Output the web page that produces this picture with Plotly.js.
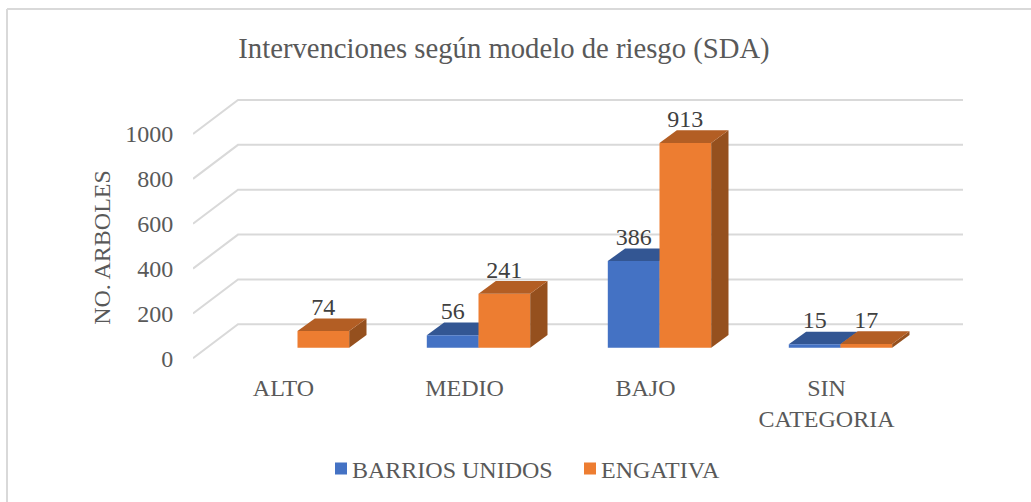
<!DOCTYPE html>
<html>
<head>
<meta charset="utf-8">
<script src="https://cdn.plot.ly/plotly-3.0.1.min.js"></script>
<style>html,body{margin:0;padding:0;background:#fff}#chart{width:1031px;height:502px}</style>
</head>
<body>
<div id="chart"></div>
<script>
// ---- data ----
const categories = ['ALTO', 'MEDIO', 'BAJO', 'SIN<br>CATEGORIA'];
const barriosUnidos = [null, 56, 386, 15];
const engativa = [74, 241, 913, 17];
const tickValues = [0, 200, 400, 600, 800, 1000];
const chartTitle = 'Intervenciones según modelo de riesgo (SDA)';
const yTitle = 'NO. ARBOLES';

// ---- geometry of the fake 3D projection ----
const W = 1031, H = 502;
const PX_L = 193, PX_R = 963, PX_T = 90, PX_B = 405, PX_XAXIS = 365;
const PX_PER_VALUE = 0.2243, PX_PER_CAT = 181;
const barCenterPx = 297.5;     // pixel of category 0 on the bar plane
const labelCenterPx = 283.5;   // pixel of category 0 on the front plane
const zeroBarPx = 347.7;       // pixel of value 0 on the bar plane
const zeroFrontPx = 358.3;     // pixel of value 0 on the front plane
const wallDx = 45 / PX_PER_CAT, wallDy = 34 / PX_PER_VALUE;
const barDx = 17.3 / PX_PER_CAT, barDy = 12.7 / PX_PER_VALUE;
const barW = 51.7 / PX_PER_CAT;
const labelLift = 22 / PX_PER_VALUE;

const xr = c => [(PX_L - c) / PX_PER_CAT, (PX_R - c) / PX_PER_CAT];
const yr = z => [(z - PX_B) / PX_PER_VALUE, (z - PX_T) / PX_PER_VALUE];
const xFront = xr(labelCenterPx), xBars = xr(barCenterPx);
const yFront = yr(zeroFrontPx), yBars = yr(zeroBarPx);

const FONT = '"Liberation Serif", "Times New Roman", serif';
const BLUE = '#4472C4', ORANGE = '#ED7D31';
const BLUE_TOP = '#335693', BLUE_SIDE = '#2B477B';
const ORANGE_TOP = '#B35E24', ORANGE_SIDE = '#95501E';

const idx = categories.map((_, i) => i);
const traces = [];

// back wall gridlines, in the front plane axes
tickValues.forEach(v => {
  traces.push({
    type: 'scatter', mode: 'lines', xaxis: 'x', yaxis: 'y', showlegend: false, hoverinfo: 'skip',
    x: [xFront[0], xFront[0] + wallDx, xFront[1]],
    y: [v, v + wallDy, v + wallDy],
    line: {color: '#D9D9D9', width: 2}
  });
});

function faces(values, offset, axX, axY, topColor, sideColor) {
  values.forEach((v, i) => {
    if (v === null) return;
    const l = i + offset, r = l + barW;
    traces.push({type: 'scatter', mode: 'lines', fill: 'toself', fillcolor: sideColor, xaxis: axX, yaxis: axY,
      showlegend: false, hoverinfo: 'skip', line: {width: 0, color: sideColor},
      x: [r, r + barDx, r + barDx, r, r], y: [0, barDy, v + barDy, v, 0]});
    traces.push({type: 'scatter', mode: 'lines', fill: 'toself', fillcolor: topColor, xaxis: axX, yaxis: axY,
      showlegend: false, hoverinfo: 'skip', line: {width: 0, color: topColor},
      x: [l, l + barDx, r + barDx, r, l], y: [v, v + barDy, v + barDy, v, v]});
  });
}
// blue depth faces sit under the bars
faces(barriosUnidos, -barW, 'x2', 'y2', BLUE_TOP, BLUE_SIDE);

// front faces
traces.push({type: 'bar', name: 'BARRIOS UNIDOS', x: idx, y: barriosUnidos, xaxis: 'x3', yaxis: 'y3',
  marker: {color: BLUE}, hoverinfo: 'y'});
traces.push({type: 'bar', name: 'ENGATIVA', x: idx, y: engativa, xaxis: 'x3', yaxis: 'y3',
  marker: {color: ORANGE}, hoverinfo: 'y'});

faces(engativa, 0, 'x3', 'y3', ORANGE_TOP, ORANGE_SIDE);

// value labels
function labels(values, offset) {
  traces.push({type: 'scatter', mode: 'text', xaxis: 'x3', yaxis: 'y3', showlegend: false, hoverinfo: 'skip',
    x: idx.map(i => i + offset),
    y: values.map(v => v === null ? null : v + labelLift),
    text: values.map(v => v === null ? '' : String(v)),
    textposition: 'middle center',
    textfont: {family: FONT, size: 24, color: '#404040'}});
}
labels(barriosUnidos, -barW / 2);
labels(engativa, barW / 2);

const xDomain = [PX_L / W, PX_R / W];
const yDomain = [1 - PX_B / H, 1 - PX_T / H];
const hiddenX = r => ({range: r, domain: xDomain, visible: false, fixedrange: true});
const hiddenY = (r, ov) => ({range: r, domain: yDomain, visible: false, fixedrange: true, overlaying: ov});

const layout = {
  width: W, height: H,
  margin: {l: 0, r: 0, t: 0, b: 0},
  paper_bgcolor: '#fff', plot_bgcolor: 'rgba(0,0,0,0)',
  font: {family: FONT, size: 24, color: '#595959'},
  title: {text: chartTitle, x: 504 / W, xanchor: 'center', y: 1 - 48 / H, yanchor: 'middle',
          font: {family: FONT, size: 28.7, color: '#595959'}},
  barmode: 'group',
  bargap: 1 - 2 * barW,
  bargroupgap: 0,
  showlegend: true,
  legend: {orientation: 'h', x: 312 / W, xanchor: 'left', y: 1 - 469 / H, yanchor: 'middle',
           font: {family: FONT, size: 24, color: '#595959'}, traceorder: 'normal', entrywidth: 204, entrywidthmode: 'pixels'},
  xaxis: {range: xFront, domain: xDomain, anchor: 'free', position: 1 - PX_XAXIS / H,
          tickmode: 'array', tickvals: idx, ticktext: categories, tickangle: 0,
          showgrid: false, zeroline: false, showline: false, ticks: 'outside', ticklen: 1, tickcolor: 'rgba(0,0,0,0)',
          fixedrange: true, tickfont: {family: FONT, size: 24, color: '#595959'}},
  yaxis: {range: yFront, domain: yDomain, anchor: 'x',
          tickmode: 'array', tickvals: tickValues,
          showgrid: false, zeroline: false, showline: false, ticks: 'outside', ticklen: 14, tickcolor: 'rgba(0,0,0,0)',
          fixedrange: true, tickfont: {family: FONT, size: 24, color: '#595959'},
          title: {text: yTitle, font: {family: FONT, size: 24, color: '#595959'}, standoff: 7}},
  xaxis2: Object.assign(hiddenX(xBars), {anchor: 'y2', overlaying: 'x'}),
  yaxis2: Object.assign(hiddenY(yBars, 'y'), {anchor: 'x2'}),
  xaxis3: Object.assign(hiddenX(xBars), {anchor: 'y3', overlaying: 'x'}),
  yaxis3: Object.assign(hiddenY(yBars, 'y'), {anchor: 'x3'}),
  shapes: [
    {type: 'line', xref: 'paper', yref: 'paper', x0: 7 / W, x1: 7 / W, y0: 0, y1: 1 - 9 / H, line: {color: '#D9D9D9', width: 2}},
    {type: 'line', xref: 'paper', yref: 'paper', x0: 7 / W, x1: 1, y0: 1 - 9 / H, y1: 1 - 9 / H, line: {color: '#D9D9D9', width: 2}}
  ]
};

Plotly.newPlot('chart', traces, layout, {displayModeBar: false, responsive: false}).then(gd => {
  // bring legend swatches next to their text, as in the original legend
  gd.querySelectorAll('.legend .legendsymbols').forEach(n => n.setAttribute('transform', 'translate(9,0)'));
});
</script>
</body>
</html>
